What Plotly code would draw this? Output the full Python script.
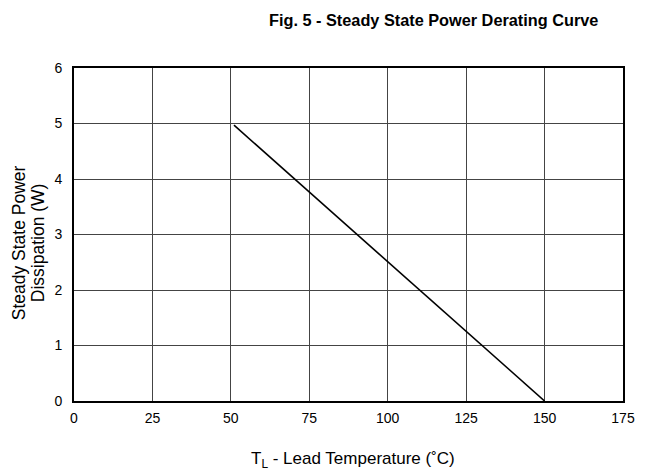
import plotly.graph_objects as go

temp_c = [51, 150]
power_w = [4.97, 0]
x_ticks = [0, 25, 50, 75, 100, 125, 150, 175]
y_ticks = [0, 1, 2, 3, 4, 5, 6]
title_text = "Fig. 5 - Steady State Power Derating Curve"
x_title = "T<sub>L</sub> - Lead Temperature (˚C)"
y_title_lines = ["Steady State Power", "Dissipation (W)"]

FONT = "Liberation Sans, Arial, sans-serif"

fig = go.Figure()
fig.add_trace(go.Scatter(x=temp_c, y=power_w, mode="lines",
                         line=dict(color="black", width=1.6),
                         showlegend=False, hoverinfo="skip"))

axis_common = dict(showline=True, linecolor="black", linewidth=2, mirror=True,
                   showgrid=True, gridcolor="#444444", gridwidth=1,
                   zeroline=False, ticks="", tickfont=dict(family=FONT, size=14, color="black"))

fig.update_xaxes(range=[0, 175], tickvals=x_ticks, ticktext=[str(v) for v in x_ticks],
                 ticklabelstandoff=3, **axis_common)
fig.update_yaxes(range=[0, 6], tickvals=y_ticks, ticktext=[str(v) for v in y_ticks],
                 ticklabelstandoff=7, **axis_common)

fig.add_annotation(text="<b>" + title_text + "</b>", xref="paper", yref="paper",
                   x=0.655, y=1.144, xanchor="center", yanchor="middle", showarrow=False,
                   font=dict(family=FONT, size=16.3, color="black"))
fig.add_annotation(text=x_title, xref="paper", yref="paper",
                   x=0.508, y=-0.177, xanchor="center", yanchor="middle", showarrow=False,
                   font=dict(family=FONT, size=17, color="black"))
for xp, line in zip([-0.1, -0.0655], y_title_lines):
    fig.add_annotation(text=line, xref="paper", yref="paper",
                       x=xp, y=0.474, xanchor="center", yanchor="middle", showarrow=False,
                       textangle=-90, font=dict(family=FONT, size=17.5, color="black"))

fig.update_layout(width=639, height=463,
                  margin=dict(l=66, r=13, t=60, b=70),
                  paper_bgcolor="white", plot_bgcolor="white")

fig.write_html("out.html")
